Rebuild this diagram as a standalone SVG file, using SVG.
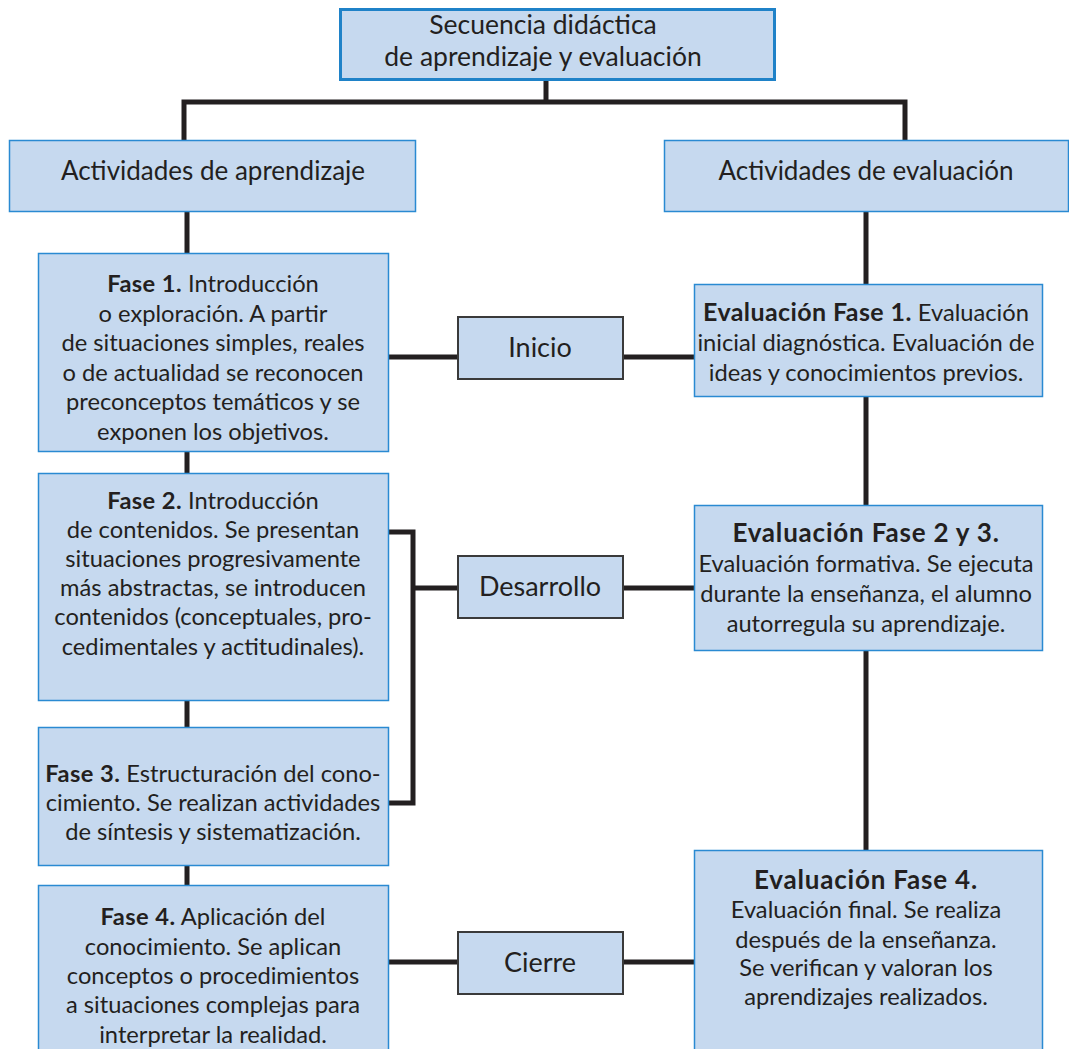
<svg xmlns="http://www.w3.org/2000/svg" width="1069" height="1049" viewBox="0 0 1069 1049">
<style>
.box{fill:#c6d9ef;stroke:#2a8ad2;stroke-width:1.5}
.top{fill:#c6d9ef;stroke:#1f82c8;stroke-width:3}
.mid{fill:#c6d9ef;stroke:#3a3a3a;stroke-width:2}
.ln{fill:none;stroke:#231f20;stroke-width:5}
text{font-family:Lato,"Open Sans","Liberation Sans",sans-serif;font-size:23.7px;fill:#231f20;text-anchor:middle}
.b{font-weight:bold;letter-spacing:0.4px}
.h{font-weight:bold;font-size:26px;letter-spacing:0.8px}
.t{font-size:26.5px}
.a{font-size:26px}
.m{font-size:27px}
</style>
<rect width="1069" height="1049" fill="#ffffff"/>
<g id="connectors">
<path class="ln" d="M546,80 V102 M184,140 V102 H905 V140"/>
<path class="ln" d="M187,212 V254 M187,452 V473 M187,701 V727 M187,866 V885"/>
<path class="ln" d="M866,212 V284 M866,397 V505 M866,651 V850"/>
<path class="ln" d="M388,357 H458 M623,357 H694"/>
<path class="ln" d="M388,532 H413 V803 H388 M413,588 H458 M623,588 H694"/>
<path class="ln" d="M388,962 H458 M623,962 H694"/>
</g>
<g id="n-root">
<rect class="top" x="340.5" y="9.5" width="434" height="70"/>
<text class="t" x="543" y="34">Secuencia didáctica</text>
<text class="t" x="543" y="66">de aprendizaje y evaluación</text>
</g>
<g id="n-aprendizaje">
<rect class="box" x="9.5" y="140.5" width="406" height="71"/>
<text class="a" x="213" y="180">Actividades de aprendizaje</text>
</g>
<g id="n-evaluacion">
<rect class="box" x="664.5" y="140.5" width="404" height="71"/>
<text class="a" x="866" y="180">Actividades de evaluación</text>
</g>
<g id="n-fase1">
<rect class="box" x="38.5" y="253.5" width="350" height="198"/>
<text x="213" y="292"><tspan class="b">Fase 1.</tspan> Introducción</text>
<text x="213" y="322">o exploración. A partir</text>
<text x="213" y="351">de situaciones simples, reales</text>
<text x="213" y="381">o de actualidad se reconocen</text>
<text x="213" y="410">preconceptos temáticos y se</text>
<text x="213" y="440">exponen los objetivos.</text>
</g>
<g id="n-fase2">
<rect class="box" x="38.5" y="473.5" width="350" height="227"/>
<text x="213" y="509"><tspan class="b">Fase 2.</tspan> Introducción</text>
<text x="213" y="538">de contenidos. Se presentan</text>
<text x="213" y="567">situaciones progresivamente</text>
<text x="213" y="596">más abstractas, se introducen</text>
<text x="213" y="625">contenidos (conceptuales, pro-</text>
<text x="213" y="655">cedimentales y actitudinales).</text>
</g>
<g id="n-fase3">
<rect class="box" x="38.5" y="727.5" width="350" height="138"/>
<text x="213" y="782"><tspan class="b">Fase 3.</tspan> Estructuración del cono-</text>
<text x="213" y="811">cimiento. Se realizan actividades</text>
<text x="213" y="840">de síntesis y sistematización.</text>
</g>
<g id="n-fase4">
<rect class="box" x="38.5" y="885.5" width="350" height="170"/>
<text x="213" y="925"><tspan class="b">Fase 4.</tspan> Aplicación del</text>
<text x="213" y="955">conocimiento. Se aplican</text>
<text x="213" y="984">conceptos o procedimientos</text>
<text x="213" y="1013">a situaciones complejas para</text>
<text x="213" y="1043">interpretar la realidad.</text>
</g>
<g id="n-inicio">
<rect class="mid" x="458" y="317" width="165" height="62"/>
<text class="m" x="540" y="357">Inicio</text>
</g>
<g id="n-desarrollo">
<rect class="mid" x="458" y="556" width="165" height="62"/>
<text class="m" x="540" y="596">Desarrollo</text>
</g>
<g id="n-cierre">
<rect class="mid" x="458" y="932" width="165" height="62"/>
<text class="m" x="540" y="972">Cierre</text>
</g>
<g id="n-eval1">
<rect class="box" x="694.5" y="284.5" width="348" height="112"/>
<text x="866" y="321"><tspan class="b" style="font-size:25px">Evaluación Fase 1.</tspan> Evaluación</text>
<text x="866" y="351">inicial diagnóstica. Evaluación de</text>
<text x="866" y="381">ideas y conocimientos previos.</text>
</g>
<g id="n-eval23">
<rect class="box" x="694.5" y="505.5" width="348" height="145"/>
<text x="866" y="542" class="h">Evaluación Fase 2 y 3.</text>
<text x="866" y="572">Evaluación formativa. Se ejecuta</text>
<text x="866" y="602">durante la enseñanza, el alumno</text>
<text x="866" y="632">autorregula su aprendizaje.</text>
</g>
<g id="n-eval4">
<rect class="box" x="694.5" y="850.5" width="348" height="205"/>
<text x="866" y="889" class="h">Evaluación Fase 4.</text>
<text x="866" y="918">Evaluación final. Se realiza</text>
<text x="866" y="948">después de la enseñanza.</text>
<text x="866" y="976">Se verifican y valoran los</text>
<text x="866" y="1005">aprendizajes realizados.</text>
</g>
</svg>
